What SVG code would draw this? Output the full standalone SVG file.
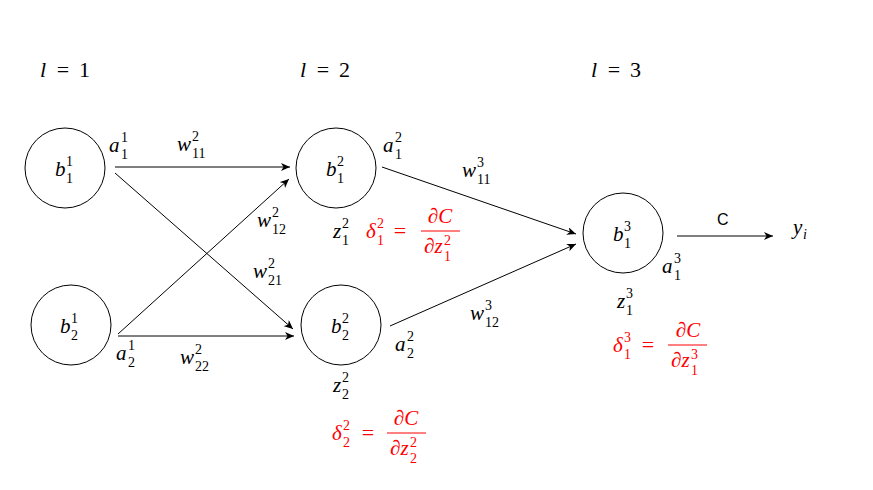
<svg xmlns="http://www.w3.org/2000/svg" width="873" height="490" viewBox="0 0 873 490">
<style>
.bg{fill:#ffffff}
.node{fill:#ffffff;stroke:#000000;stroke-width:1}
.edge{fill:none;stroke:#000000;stroke-width:1}
text{font-family:"Liberation Serif","Times New Roman","DejaVu Serif",serif}
.m{font-style:italic;font-size:21px;fill:#000000}
.u{font-size:22px;fill:#000000}
.s{font-size:14px;fill:#000000}
.si{font-style:italic;font-size:14px;fill:#000000}
.red{fill:#ff0000}
.bar{stroke:#ff0000;stroke-width:1}
.sans{font-family:"Liberation Sans",Arial,sans-serif;font-size:16px;fill:#000000}
</style>
<defs>
<marker id="arr" markerUnits="userSpaceOnUse" markerWidth="10" markerHeight="8" refX="9" refY="4" orient="auto">
<path d="M0,0 L9,4 L0,8 L2.5,4 Z" fill="#000000"/>
</marker>
</defs>
<rect class="bg" x="0" y="0" width="873" height="490"/>

<g id="layer-labels">
<text class="m" x="40" y="77" style="font-size:22px">l</text><text class="u" x="63" y="77" text-anchor="middle">=</text><text class="u" x="79" y="77">1</text>
<text class="m" x="300" y="77" style="font-size:22px">l</text><text class="u" x="323" y="77" text-anchor="middle">=</text><text class="u" x="339" y="77">2</text>
<text class="m" x="591" y="77" style="font-size:22px">l</text><text class="u" x="614" y="77" text-anchor="middle">=</text><text class="u" x="630" y="77">3</text>
</g>

<g id="connectors">
<line class="edge" x1="115" y1="167" x2="290" y2="167" marker-end="url(#arr)"/>
<line class="edge" x1="115" y1="173" x2="293" y2="329" marker-end="url(#arr)"/>
<line class="edge" x1="118" y1="334" x2="289" y2="179" marker-end="url(#arr)"/>
<line class="edge" x1="118" y1="336" x2="294" y2="336" marker-end="url(#arr)"/>
<line class="edge" x1="382" y1="167" x2="576" y2="234" marker-end="url(#arr)"/>
<line class="edge" x1="390" y1="326" x2="576" y2="244" marker-end="url(#arr)"/>
<line class="edge" x1="677" y1="236" x2="773" y2="236" marker-end="url(#arr)"/>
</g>

<g id="edge-labels">
<text class="m" x="177" y="151">w</text><text class="s" x="192" y="141">2</text><text class="s" x="192" y="158">11</text>
<text class="m" x="257" y="227">w</text><text class="s" x="272" y="217">2</text><text class="s" x="272" y="234">12</text>
<text class="m" x="253" y="278">w</text><text class="s" x="268" y="268">2</text><text class="s" x="268" y="285">21</text>
<text class="m" x="180" y="364">w</text><text class="s" x="195" y="354">2</text><text class="s" x="195" y="371">22</text>
<text class="m" x="462" y="177">w</text><text class="s" x="477" y="167">3</text><text class="s" x="477" y="184">11</text>
<text class="m" x="470" y="320">w</text><text class="s" x="485" y="310">3</text><text class="s" x="485" y="327">12</text>
<text class="sans" x="717" y="225">C</text>
<text class="m" x="793" y="234">y</text><text class="si" x="803" y="239">i</text>
</g>

<g id="node-b11">
<circle class="node" cx="65" cy="168" r="40"/>
<text class="m" x="55" y="176">b</text><text class="s" x="66" y="166">1</text><text class="s" x="66" y="183">1</text>
<text class="m" x="109" y="152">a</text><text class="s" x="121" y="142">1</text><text class="s" x="121" y="159">1</text>
</g>

<g id="node-b21">
<circle class="node" cx="71" cy="325" r="40"/>
<text class="m" x="60" y="333">b</text><text class="s" x="71" y="323">1</text><text class="s" x="71" y="340">2</text>
<text class="m" x="116" y="360">a</text><text class="s" x="128" y="350">1</text><text class="s" x="128" y="367">2</text>
</g>

<g id="node-b12">
<circle class="node" cx="336" cy="168" r="40"/>
<text class="m" x="326" y="176">b</text><text class="s" x="337" y="166">2</text><text class="s" x="337" y="183">1</text>
<text class="m" x="383" y="152">a</text><text class="s" x="395" y="142">2</text><text class="s" x="395" y="159">1</text>
<text class="m" x="333" y="238">z</text><text class="s" x="342" y="228">2</text><text class="s" x="342" y="245">1</text>
<text class="m red" x="366" y="238">δ</text><text class="s red" x="377" y="228">2</text><text class="s red" x="377" y="245">1</text>
<text class="u red" x="400" y="238" text-anchor="middle">=</text>
<text class="m red" x="440" y="223" text-anchor="middle">∂C</text>
<line class="bar" x1="421" y1="231" x2="460" y2="231"/>
<text class="m red" x="424" y="253">∂z</text><text class="s red" x="444" y="245">2</text><text class="s red" x="444" y="261">1</text>
</g>

<g id="node-b22">
<circle class="node" cx="341" cy="325" r="40"/>
<text class="m" x="331" y="333">b</text><text class="s" x="342" y="323">2</text><text class="s" x="342" y="340">2</text>
<text class="m" x="395" y="351">a</text><text class="s" x="407" y="341">2</text><text class="s" x="407" y="358">2</text>
<text class="m" x="333" y="392">z</text><text class="s" x="342" y="382">2</text><text class="s" x="342" y="399">2</text>
<text class="m red" x="332" y="440">δ</text><text class="s red" x="343" y="430">2</text><text class="s red" x="343" y="447">2</text>
<text class="u red" x="368" y="440" text-anchor="middle">=</text>
<text class="m red" x="406" y="425" text-anchor="middle">∂C</text>
<line class="bar" x1="387" y1="433" x2="426" y2="433"/>
<text class="m red" x="390" y="455">∂z</text><text class="s red" x="410" y="447">2</text><text class="s red" x="410" y="463">2</text>
</g>

<g id="node-b13">
<circle class="node" cx="623" cy="233" r="40"/>
<text class="m" x="613" y="241">b</text><text class="s" x="624" y="231">3</text><text class="s" x="624" y="248">1</text>
<text class="m" x="662" y="273">a</text><text class="s" x="674" y="263">3</text><text class="s" x="674" y="280">1</text>
<text class="m" x="617" y="308">z</text><text class="s" x="626" y="298">3</text><text class="s" x="626" y="315">1</text>
<text class="m red" x="613" y="352">δ</text><text class="s red" x="624" y="342">3</text><text class="s red" x="624" y="359">1</text>
<text class="u red" x="648" y="352" text-anchor="middle">=</text>
<text class="m red" x="688" y="337" text-anchor="middle">∂C</text>
<line class="bar" x1="668" y1="345" x2="707" y2="345"/>
<text class="m red" x="671" y="367">∂z</text><text class="s red" x="691" y="359">3</text><text class="s red" x="691" y="375">1</text>
</g>
</svg>
